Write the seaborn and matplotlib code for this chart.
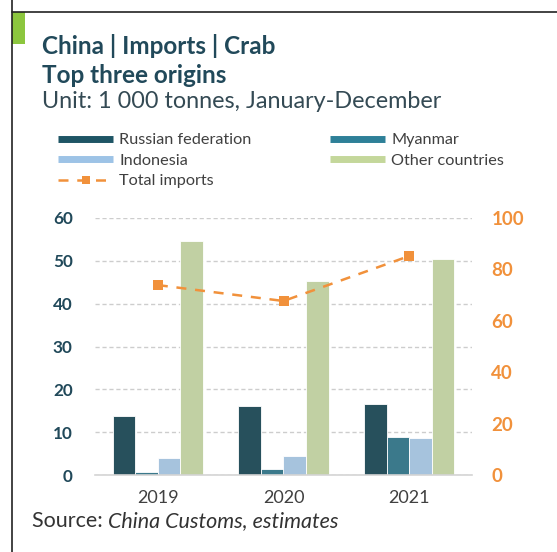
import matplotlib
matplotlib.use("Agg")
import matplotlib.pyplot as plt
from matplotlib.lines import Line2D
from matplotlib.patches import Rectangle
import seaborn as sns
import pandas as pd

# Crab imports into China, 1 000 tonnes
years = ["2019", "2020", "2021"]
origins = ["Russian federation", "Myanmar", "Indonesia", "Other countries"]
russia = [13.8, 16.2, 16.6]
myanmar = [0.8, 1.4, 8.8]
indonesia = [4.0, 4.5, 8.6]
other = [54.7, 45.3, 50.4]
total_imports = [73.9, 67.7, 85.2]

left_ticks = [0, 10, 20, 30, 40, 50, 60]
right_ticks = [0, 20, 40, 60, 80, 100]

colors = ["#1e5565", "#2e8098", "#9dc3e6", "#c4d79b"]
orange = "#f1913b"
teal_text = "#21495a"

sns.set_style("white")
plt.rcParams["font.family"] = ["Lato", "DejaVu Sans"]

W, H = 557, 552


def px(x, y):
    return x / W, 1 - y / H


bars = pd.DataFrame({
    "year": years * 4,
    "origin": [o for o in origins for _ in years],
    "value": russia + myanmar + indonesia + other,
})
totals = pd.DataFrame({"year": years, "total": total_imports})

fig = plt.figure(figsize=(W / 100, H / 100), dpi=100)
fig.patch.set_facecolor("white")
ax = fig.add_axes([95 / W, 77 / H, 377 / W, 257 / H])

sns.barplot(data=bars, x="year", y="value", hue="origin", hue_order=origins,
            palette=colors, width=0.72, gap=0, edgecolor="white", linewidth=0.6,
            legend=False, ax=ax, zorder=2)

ax2 = ax.twinx()
sns.pointplot(data=totals, x="year", y="total", ax=ax2, color=orange,
              errorbar=None, marker="s", markersize=6.5, markeredgewidth=0,
              linestyle=(0, (4, 3.5)), linewidth=1.8)

ax.set_xlim(-0.5, 2.5)
ax.set_ylim(0, 60)
ax.set_yticks(left_ticks, [str(t) for t in left_ticks], fontweight="bold")
ax.yaxis.grid(True, color="#cdcdcd", linestyle=(0, (3, 2)), linewidth=1.0, zorder=0)
ax.set_axisbelow(True)
for s in ["top", "right", "left"]:
    ax.spines[s].set_visible(False)
ax.spines["bottom"].set_color("#d4d4d4")
ax.spines["bottom"].set_linewidth(1.2)
ax.tick_params(axis="y", length=0, pad=16, labelsize=12.3, labelcolor=teal_text)
ax.tick_params(axis="x", length=0, pad=11, labelsize=13, labelcolor="#404040")
ax.set_xlabel("")
ax.set_ylabel("")

ax2.set_xlim(-0.5, 2.5)
ax2.set_ylim(0, 100)
ax2.set_yticks(right_ticks, [str(t) for t in right_ticks], fontweight="bold")
ax2.grid(False)
for s in ax2.spines.values():
    s.set_visible(False)
ax2.tick_params(axis="y", length=0, pad=14, labelsize=13.5, labelcolor=orange)
ax2.set_xlabel("")
ax2.set_ylabel("")

# Legend in two columns
h_rus = Line2D([], [], color=colors[0], lw=5, solid_capstyle="butt")
h_mya = Line2D([], [], color=colors[1], lw=5, solid_capstyle="butt")
h_ind = Line2D([], [], color=colors[2], lw=5, solid_capstyle="butt")
h_oth = Line2D([], [], color=colors[3], lw=5, solid_capstyle="butt")
h_tot = Line2D([], [], color=orange, lw=1.8, linestyle=(0, (4, 3.5)),
               marker="s", markersize=6, markeredgewidth=0)
leg_kw = dict(loc="upper left", frameon=False, fontsize=11.7, borderpad=0,
              borderaxespad=0, handlelength=3.4, handletextpad=0.37,
              labelspacing=0.38, labelcolor="#404040", numpoints=1)
fig.legend([h_rus, h_ind, h_tot], ["Russian federation", "Indonesia", "Total imports"],
           bbox_to_anchor=px(58, 133), **leg_kw)
fig.legend([h_mya, h_oth], ["Myanmar", "Other countries"],
           bbox_to_anchor=px(330, 133), **leg_kw)

# Titles
fig.text(*px(42, 54), "China | Imports | Crab", fontsize=17.5, fontweight="bold",
         color=teal_text, va="baseline")
fig.text(*px(42, 83), "Top three origins", fontsize=17.5, fontweight="bold",
         color=teal_text, va="baseline")
fig.text(*px(42, 108), "Unit: 1 000 tonnes, January-December", fontsize=16.8,
         color="#344a54", va="baseline")

# Source line
src = fig.text(*px(32, 527), "Source: ", fontsize=15.5, color="#333333", va="baseline")
fig.canvas.draw()
bb = src.get_window_extent()
fig.text(bb.x1 / W, 1 - 527 / H, "China Customs, estimates", fontsize=15.5,
         style="italic", color="#333333", va="baseline")

# Page frame and accent mark
fig.add_artist(Line2D([12 / W, 12 / W], [0, 1], transform=fig.transFigure,
                      color="#222222", lw=1.2))
fig.add_artist(Line2D([12 / W, 1], [1 - 12 / H, 1 - 12 / H], transform=fig.transFigure,
                      color="#222222", lw=1.2))
fig.add_artist(Rectangle(px(12, 44), 13 / W, 32 / H, transform=fig.transFigure,
                         color="#8cc63e", lw=0))

fig.savefig("out.png", dpi=100, facecolor="white")
